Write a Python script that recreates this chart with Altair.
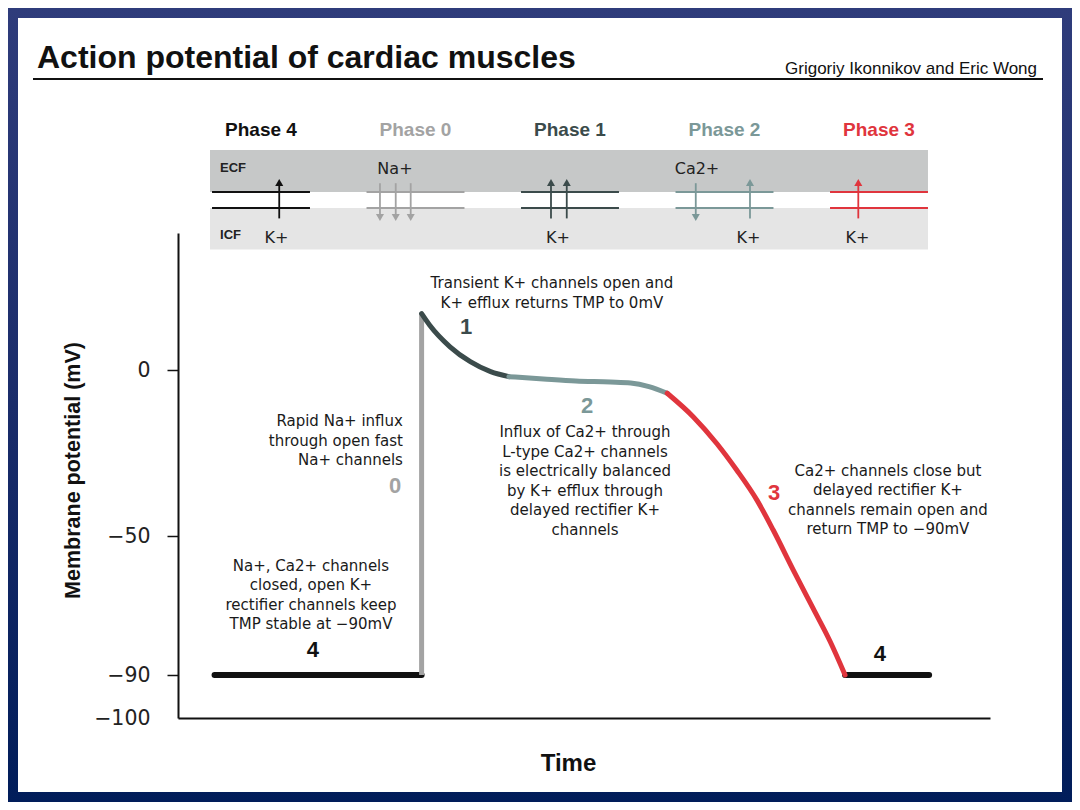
import altair as alt
import pandas as pd

# ------------------------------------------------------------------ texts
TITLE = "Action potential of cardiac muscles"
AUTHORS = "Grigoriy Ikonnikov and Eric Wong"
X_TITLE = "Time"
Y_TITLE = "Membrane potential (mV)"
Y_TICKS = [-100, -90, -50, 0]

# ------------------------------------------------------------------ phases
PHASES = ["4", "0", "1", "2", "3"]
PHASE_LABELS = ["Phase 4", "Phase 0", "Phase 1", "Phase 2", "Phase 3"]
PHASE_COLORS = ["#111111", "#a3a3a3", "#3b4b4b", "#7b9898", "#e0353d"]

# ------------------------------------------------------------------ action potential trace (t: ms, v: mV)
REST_T_START = [18, 328.6]
REST_T_END = [120, 370]
REST_V = [-90, -90]
UPSTROKE_T = [120]
UPSTROKE_FROM = [-90]
UPSTROKE_TO = [17]
P1_T = [120, 124, 134, 144, 154, 163]
P1_V = [17, 13.5, 7, 2.5, -0.5, -2]
P2_T = [163, 180, 196, 213, 223, 232, 241]
P2_V = [-2, -2.7, -3.3, -3.6, -3.9, -5, -7]
P3_T = [241, 254, 265.5, 275.3, 285.2, 293.2, 303.1, 313, 321.2, 328.6]
P3_V = [-7, -14.2, -22.2, -30.2, -39.2, -48.2, -59.8, -71, -80.3, -90]

# ------------------------------------------------------------------ annotations (data coordinates of first line)
NOTE_TEXT = [
    "Transient K+ channels open and\nK+ efflux returns TMP to 0mV",
    "Influx of Ca2+ through\nL-type Ca2+ channels\nis electrically balanced\nby K+ efflux through\ndelayed rectifier K+\nchannels",
    "Ca2+ channels close but\ndelayed rectifier K+\nchannels remain open and\nreturn TMP to \u221290mV",
    "Na+, Ca2+ channels\nclosed, open K+\nrectifier channels keep\nTMP stable at \u221290mV",
]
NOTE_T = [184.2, 200.5, 349.7, 65.5]
NOTE_V = [26.2, -18.7, -30.4, -58.6]
NOTE_RIGHT_TEXT = ["Rapid Na+ influx\nthrough open fast\nNa+ channels"]
NOTE_RIGHT_T = [110.8]
NOTE_RIGHT_V = [-15.4]

NUM_TEXT = ["1", "2", "0", "3", "4", "4"]
NUM_PHASE = ["1", "2", "0", "3", "4", "4"]
NUM_T = [141.9, 201.5, 106.9, 293.6, 66.5, 345.8]
NUM_V = [12.9, -10.8, -34.9, -37.0, -82.9, -84.0]

# ------------------------------------------------------------------ channel diagram
MEMBRANE_U = [1, -1]
ARROW_PHASE = ["4", "0", "0", "0", "1", "1", "2", "2", "3"]
ARROW_OFFSET = [0.118, -0.23, -0.128, -0.031, -0.123, -0.021, -0.186, 0.165, -0.134]
ARROW_DIR = ["up", "down", "down", "down", "up", "up", "down", "up", "up"]
ION_PHASE = ["4", "0", "1", "2", "2", "3"]
ION_TEXT = ["K+", "Na+", "K+", "Ca2+", "K+", "K+"]
ION_OFFSET = [0.100, -0.133, -0.078, -0.178, 0.155, -0.139]
ION_SIDE = ["ICF", "ECF", "ICF", "ECF", "ICF", "ICF"]
SIDE_LABELS = ["ECF", "ICF"]

# ------------------------------------------------------------------ scales
X_MAIN = alt.Scale(domain=[0, 400], range=[0, 812], nice=False, zero=False)
Y_MAIN = alt.Scale(domain=[-100, -90, -50, 0, 41.3], range=[485, 442, 303, 137, 0],
                   nice=False, zero=False)
X_HDR = alt.Scale(domain=[0, 4], range=[83, 701], nice=False, zero=False)
Y_HDR = alt.Scale(domain=[-6.25, 6.25], range=[17, -83], nice=False, zero=False)
COLOR = alt.Color("phase:N", scale=alt.Scale(domain=PHASES, range=PHASE_COLORS), legend=None)

BODY_FONT = "DejaVu Sans"
BOLD_FONT = "Liberation Sans"


def mx(f):
    return alt.X(f, type="quantitative", scale=X_MAIN, axis=None)


def my(f):
    return alt.Y(f, type="quantitative", scale=Y_MAIN, axis=None)


def hx(f):
    return alt.X(f, type="quantitative", scale=X_HDR, axis=None)


def hy(f):
    return alt.Y(f, type="quantitative", scale=Y_HDR, axis=None)


one = pd.DataFrame({"k": [0]})

# ------------------------------------------------------------------ slide frame
bg = alt.Chart(one).mark_rect(
    fill=alt.LinearGradient(
        gradient="linear",
        stops=[alt.GradientStop(color="#2f3c7b", offset=0),
               alt.GradientStop(color="#1a2c6a", offset=0.5),
               alt.GradientStop(color="#011d5a", offset=1)],
        x1=0, x2=0, y1=0, y2=1)
).encode(x=alt.value(-170), x2=alt.value(894), y=alt.value(-225), y2=alt.value(569))

panel = alt.Chart(one).mark_rect(fill="white").encode(
    x=alt.value(-160), x2=alt.value(884), y=alt.value(-215), y2=alt.value(559))

title = alt.Chart(one).mark_text(
    text=TITLE, align="left", baseline="alphabetic", font=BOLD_FONT,
    fontWeight="bold", fontSize=32, color="#111111"
).encode(x=alt.value(-141), y=alt.value(-165))

authors = alt.Chart(one).mark_text(
    text=AUTHORS, align="right", baseline="alphabetic", font=BOLD_FONT,
    fontSize=17, color="#111111"
).encode(x=alt.value(859), y=alt.value(-159))

title_rule = alt.Chart(one).mark_rule(color="#111111", strokeWidth=2).encode(
    x=alt.value(-145), x2=alt.value(865), y=alt.value(-154))

# ------------------------------------------------------------------ channel diagram
band_df = pd.DataFrame({
    "x1": [-0.33, -0.33], "x2": [4.317, 4.317],
    "u1": [1.0, -1.0], "u2": [6.25, -6.2],
    "fill": ["#c6c8c8", "#e5e5e5"],
})
bands = alt.Chart(band_df).mark_rect().encode(
    x=hx("x1"), x2="x2", y=hy("u1"), y2="u2", fill=alt.Fill("fill:N", scale=None))

memb_rows = []
for i, p in enumerate(PHASES):
    for u in MEMBRANE_U:
        memb_rows.append({"phase": p, "x1": i - 0.317, "x2": i + 0.317, "u": u})
memb = alt.Chart(pd.DataFrame(memb_rows)).mark_rule(strokeWidth=2).encode(
    x=hx("x1"), x2="x2", y=hy("u"), color=COLOR)

arrow_rows = []
for p, off, d in zip(ARROW_PHASE, ARROW_OFFSET, ARROW_DIR):
    x = PHASES.index(p) + off
    if d == "up":
        arrow_rows.append({"phase": p, "x": x, "u1": -2.3, "u2": 2.2, "shape": "triangle-up"})
    else:
        arrow_rows.append({"phase": p, "x": x, "u1": 2.1, "u2": -2.2, "shape": "triangle-down"})
arrow_df = pd.DataFrame(arrow_rows)
shafts = alt.Chart(arrow_df).mark_rule(strokeWidth=1.8).encode(
    x=hx("x"), y=hy("u1"), y2="u2", color=COLOR)
heads = alt.Chart(arrow_df).mark_point(filled=True, opacity=1, size=65).encode(
    x=hx("x"), y=hy("u2"), color=COLOR, shape=alt.Shape("shape:N", scale=None))

ion_df = pd.DataFrame({
    "x": [PHASES.index(p) + o for p, o in zip(ION_PHASE, ION_OFFSET)],
    "u": [3.875 if s == "ECF" else -4.75 for s in ION_SIDE],
    "text": ION_TEXT,
})
ions = alt.Chart(ion_df).mark_text(font=BODY_FONT, fontSize=16, color="#222222").encode(
    x=hx("x"), y=hy("u"), text="text:N")

side_df = pd.DataFrame({"x": [-0.265, -0.265], "u": [4.0, -4.4], "text": SIDE_LABELS})
sides = alt.Chart(side_df).mark_text(
    font=BOLD_FONT, fontWeight="bold", fontSize=13, align="left", color="#222222"
).encode(x=hx("x"), y=hy("u"), text="text:N")

phase_df = pd.DataFrame({"x": list(range(len(PHASES))), "u": [8.75] * len(PHASES),
                         "phase": PHASES, "text": PHASE_LABELS})
phase_labels = alt.Chart(phase_df).mark_text(
    font=BOLD_FONT, fontWeight="bold", fontSize=19
).encode(x=hx("x"), y=hy("u"), text="text:N", color=COLOR)

# ------------------------------------------------------------------ action potential
rest_df = pd.DataFrame({"t": REST_T_START, "t2": REST_T_END, "v": REST_V, "phase": ["4", "4"]})
rest = alt.Chart(rest_df).mark_rule(strokeWidth=6, strokeCap="round").encode(
    x=alt.X("t:Q", scale=X_MAIN,
            axis=alt.Axis(title=X_TITLE, ticks=False, labels=False, grid=False,
                          domainColor="#111111", domainWidth=2,
                          titleFont=BOLD_FONT, titleFontWeight="bold", titleFontSize=24,
                          titleColor="#111111", titleX=390, titleY=52,
                          titleAlign="center", titleBaseline="alphabetic", zindex=1)),
    x2="t2",
    y=alt.Y("v:Q", scale=Y_MAIN,
            axis=alt.Axis(title=Y_TITLE, values=Y_TICKS, grid=False,
                          domainColor="#111111", domainWidth=2,
                          tickColor="#111111", tickWidth=1.5, tickSize=11,
                          tickOpacity={"condition": {"test": "datum.value === -100", "value": 0},
                                       "value": 1},
                          labelFont=BODY_FONT, labelFontSize=20.5, labelColor="#222222",
                          labelPadding=17,
                          titleFont=BOLD_FONT, titleFontWeight="bold", titleFontSize=21.5,
                          titleColor="#111111", titleAngle=270, titleX=-99, titleY=237,
                          titleAlign="center", titleBaseline="alphabetic", zindex=1)),
    color=COLOR,
)

up_df = pd.DataFrame({"t": UPSTROKE_T, "v1": UPSTROKE_FROM, "v2": UPSTROKE_TO, "phase": ["0"]})
upstroke = alt.Chart(up_df).mark_rule(strokeWidth=5).encode(
    x=mx("t"), y=my("v1"), y2="v2", color=COLOR)

curve_df = pd.concat([
    pd.DataFrame({"t": P1_T, "v": P1_V, "phase": "1"}),
    pd.DataFrame({"t": P2_T, "v": P2_V, "phase": "2"}),
    pd.DataFrame({"t": P3_T, "v": P3_V, "phase": "3"}),
], ignore_index=True)
curves = alt.Chart(curve_df).mark_line(strokeWidth=5, interpolate="monotone", strokeCap="round").encode(
    x=mx("t"), y=my("v"), color=COLOR, detail="phase:N")

notes = alt.Chart(pd.DataFrame({"t": NOTE_T, "v": NOTE_V, "text": NOTE_TEXT})).mark_text(
    font=BODY_FONT, fontSize=15, lineBreak="\n", lineHeight=19.5, align="center",
    baseline="middle", color="#1a1a1a"
).encode(x=mx("t"), y=my("v"), text="text:N")

notes_r = alt.Chart(pd.DataFrame({"t": NOTE_RIGHT_T, "v": NOTE_RIGHT_V, "text": NOTE_RIGHT_TEXT})).mark_text(
    font=BODY_FONT, fontSize=15, lineBreak="\n", lineHeight=19.5, align="right",
    baseline="middle", color="#1a1a1a"
).encode(x=mx("t"), y=my("v"), text="text:N")

nums = alt.Chart(pd.DataFrame({"t": NUM_T, "v": NUM_V, "text": NUM_TEXT, "phase": NUM_PHASE})).mark_text(
    font=BOLD_FONT, fontWeight="bold", fontSize=22, baseline="middle"
).encode(x=mx("t"), y=my("v"), text="text:N", color=COLOR)

chart = alt.layer(
    bg, panel, title, authors, title_rule,
    bands, memb, shafts, heads, ions, sides, phase_labels,
    rest, upstroke, curves, notes, notes_r, nums,
).resolve_scale(
    x="independent", y="independent"
).properties(
    width=812, height=485,
    autosize=alt.AutoSizeParams(type="none"),
    padding={"left": 170, "top": 225, "right": 82, "bottom": 84},
    background="#1a2c6a",
).configure_view(stroke=None)

chart.save("out.html", embed_options={"renderer": "svg", "actions": False})
